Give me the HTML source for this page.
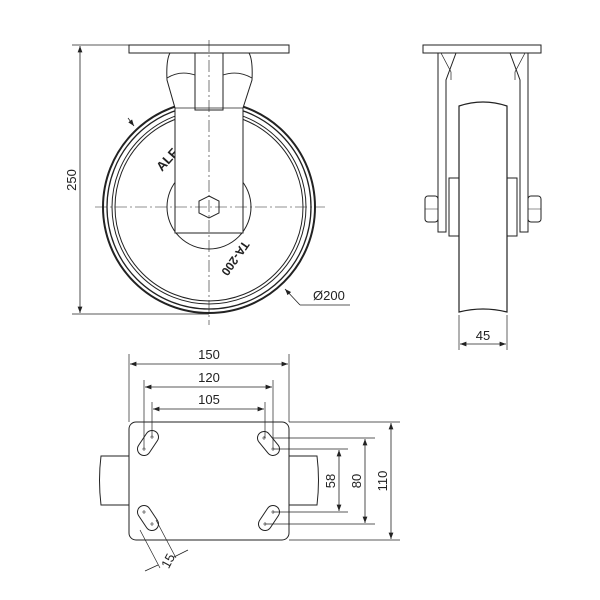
<!DOCTYPE html>
<html><head><style>body{margin:0;background:#fff}svg{display:block}text{font-family:"Liberation Sans",sans-serif;font-size:13px;fill:#222}</style></head><body>
<svg width="600" height="600" viewBox="0 0 600 600" xmlns="http://www.w3.org/2000/svg">
<defs><marker id="a" markerWidth="8" markerHeight="6" refX="8" refY="3" orient="auto-start-reverse"><path d="M0,0 L8,3 L0,6 z" fill="#222"/></marker></defs>
<g fill="none" stroke="#222" stroke-width="1">
<circle cx="209" cy="207" r="106" stroke-width="2"/>
<circle cx="209" cy="207" r="102" stroke-width="1.3"/>
<circle cx="209" cy="207" r="97"/>
<circle cx="209" cy="207" r="94"/>
<circle cx="209" cy="207" r="42"/>
</g>
<text transform="translate(162,172) rotate(-48)" style="font-weight:bold;font-size:13px">ALF</text>
<text transform="translate(232,256) rotate(125)" style="font-weight:bold;font-size:12px" text-anchor="middle">TA-200</text>
<g fill="none" stroke="#222" stroke-width="1">
<path d="M175,233 V108 L167,80 Q166,60 170,53 H249 Q253,60 252,80 L243,108 V233 Z" fill="#fff"/>
<path d="M175,108 H243 M167,78 Q180,70 195,75 M252,78 Q238,70 223,75" stroke-width="0.8"/>
<path d="M195,53 V110 H223 V53"/>
<rect x="129" y="45" width="160" height="8" fill="#fff"/>
<polygon points="209,196 219,201 219,213 209,218 199,213 199,201"/>
<path d="M209,40 V325 M95,207 H325" stroke-width="0.6" stroke-dasharray="12,3,2,3"/>
<path d="M72,45 H129 M72,314 H209" stroke-width="0.7"/>
<path d="M80,46 V313" stroke-width="0.8" marker-start="url(#a)" marker-end="url(#a)"/>
<path d="M128,118 L134,126" stroke-width="0.8" marker-end="url(#a)"/>
<path d="M300,305 L285,289" stroke-width="0.8" marker-end="url(#a)"/>
<path d="M300,305 H350" stroke-width="0.8"/>
<rect x="423" y="45" width="118" height="8" fill="#fff"/>
<path d="M438,53 V232 H446 V80 L456,53 M528,53 V232 H520 V80 L510,53"/>
<path d="M441,53 L451,72 V80 M525,53 L515,72 V80" stroke-width="0.7"/>
<rect x="449" y="178" width="10" height="58"/>
<rect x="507" y="178" width="10" height="58"/>
<path d="M459,106 Q483,98 507,106 V312 Q483,306 459,312 Z" fill="#fff" stroke-width="1.2"/>
<rect x="425" y="196" width="13" height="26" rx="3"/>
<rect x="528" y="196" width="13" height="26" rx="3"/>
<path d="M425,209 H438 M528,209 H541" stroke-width="0.6"/>
<path d="M459,315 V350 M507,315 V350" stroke-width="0.7"/>
<path d="M460,344 H506" stroke-width="0.8" marker-start="url(#a)" marker-end="url(#a)"/>
<path d="M101,456 H129 V505 H101 Q98,480 101,456 Z M289,456 H317 Q320,480 317,505 H289"/>
<rect x="129" y="422" width="160" height="118" rx="7" fill="#fff"/>
<line x1="152" y1="437" x2="144" y2="449" stroke-width="14" stroke-linecap="round" stroke="#222"/>
<line x1="152" y1="437" x2="144" y2="449" stroke-width="12" stroke-linecap="round" stroke="#fff"/>
<line x1="264" y1="438" x2="273" y2="449" stroke-width="14" stroke-linecap="round" stroke="#222"/>
<line x1="264" y1="438" x2="273" y2="449" stroke-width="12" stroke-linecap="round" stroke="#fff"/>
<line x1="144" y1="512" x2="152" y2="524" stroke-width="14" stroke-linecap="round" stroke="#222"/>
<line x1="144" y1="512" x2="152" y2="524" stroke-width="12" stroke-linecap="round" stroke="#fff"/>
<line x1="273" y1="512" x2="265" y2="524" stroke-width="14" stroke-linecap="round" stroke="#222"/>
<line x1="273" y1="512" x2="265" y2="524" stroke-width="12" stroke-linecap="round" stroke="#fff"/>
<path d="M150,437h4M152,435v4M142,449h4M144,447v4M262,438h4M264,436v4M271,449h4M273,447v4M142,512h4M144,510v4M150,524h4M152,522v4M271,512h4M273,510v4M263,524h4M265,522v4" stroke-width="0.6"/>
<g stroke-width="0.7">
<path d="M129,354 V422 M289,354 V422 M144,380 V449 M273,380 V449 M152,402 V437 M265,402 V438"/>
<path d="M289,422 H400 M273,438 H375 M273,449 H348 M273,512 H348 M265,524 H375 M289,540 H400"/>
<path d="M140,530 L160,568 M156,520 L176,558"/>
</g>
<g stroke-width="0.8">
<path d="M130,364 H288" marker-start="url(#a)" marker-end="url(#a)"/>
<path d="M145,387 H272" marker-start="url(#a)" marker-end="url(#a)"/>
<path d="M153,409 H264" marker-start="url(#a)" marker-end="url(#a)"/>
<path d="M339,450 V511" marker-start="url(#a)" marker-end="url(#a)"/>
<path d="M365,439 V523" marker-start="url(#a)" marker-end="url(#a)"/>
<path d="M391,423 V539" marker-start="url(#a)" marker-end="url(#a)"/>
<path d="M145,571 L158,565 M174,557 L188,550" />
</g>
</g>
<text x="209" y="359" text-anchor="middle">150</text>
<text x="209" y="382" text-anchor="middle">120</text>
<text x="209" y="404" text-anchor="middle">105</text>
<text x="483" y="340" text-anchor="middle">45</text>
<text x="313" y="300">Ø200</text>
<text transform="translate(76,180) rotate(-90)" text-anchor="middle">250</text>
<text transform="translate(335,481) rotate(-90)" text-anchor="middle">58</text>
<text transform="translate(361,481) rotate(-90)" text-anchor="middle">80</text>
<text transform="translate(387,481) rotate(-90)" text-anchor="middle">110</text>
<text transform="translate(172,563) rotate(-62)" text-anchor="middle">15</text>
</svg>
</body></html>
